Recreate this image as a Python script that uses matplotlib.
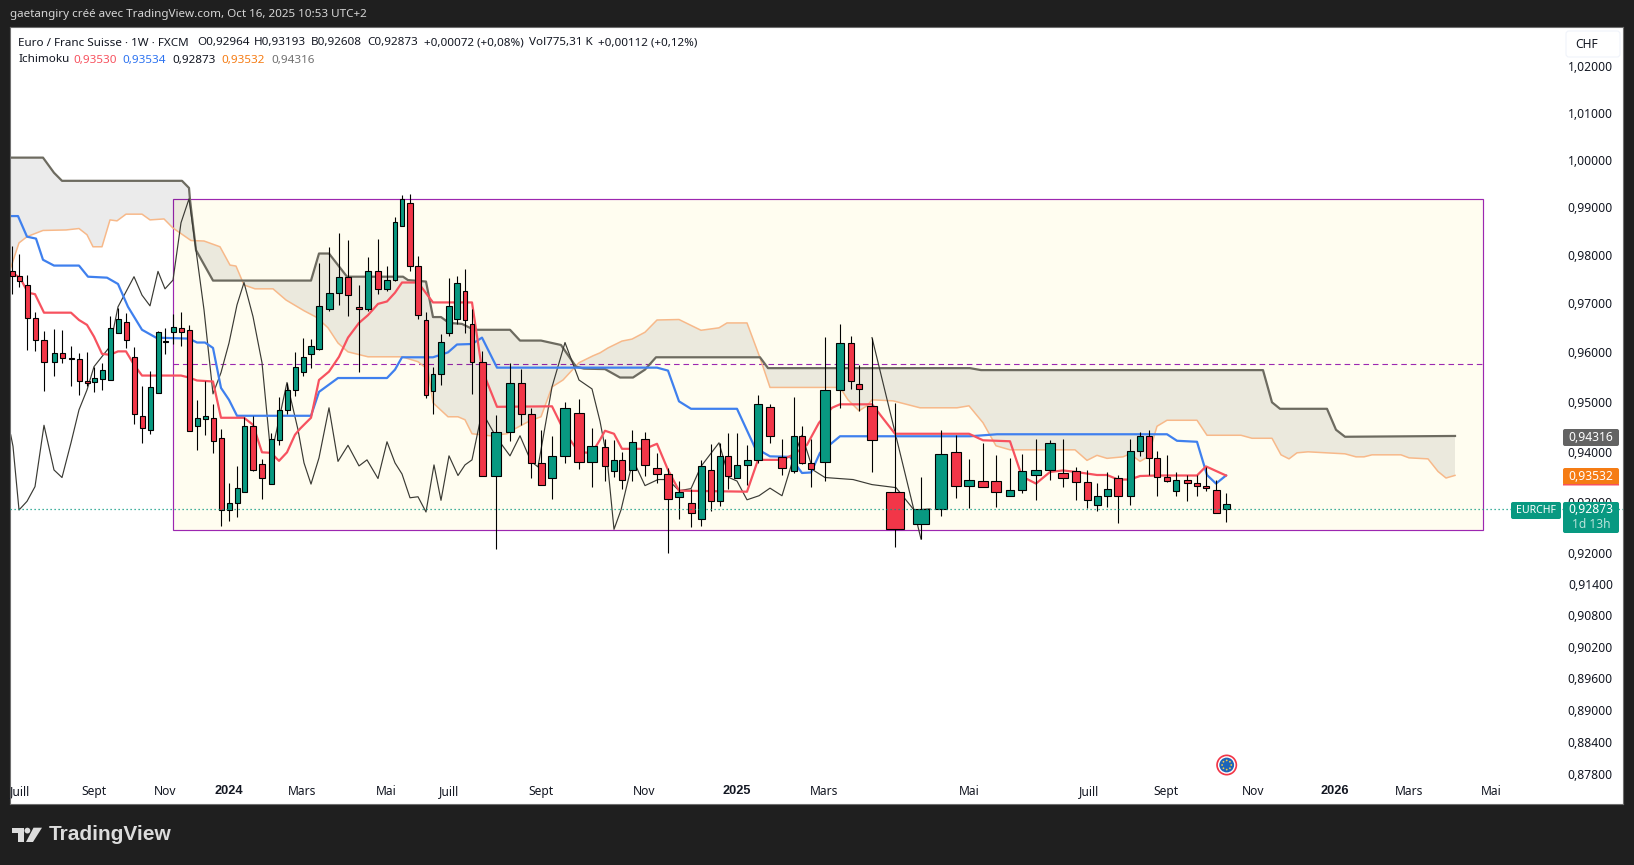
import numpy as np
import matplotlib
matplotlib.use('Agg')
import matplotlib.pyplot as plt
from matplotlib.patches import Rectangle, FancyBboxPatch, Circle, Polygon
from matplotlib.transforms import IdentityTransform

W, H = 1634, 865
FONT = 'Noto Sans'
BOLD_FONT = 'Liberation Sans'
plt.rcParams['font.family'] = [FONT, 'DejaVu Sans']

# %% data: time scale is irregular in the screenshot, so bars carry their own position
candle_pos = [12.3, 19.3, 27.3, 35.3, 44.3, 54.3, 62.3, 71.3, 79.3, 87.3, 94.3, 102.3, 110.3, 118.3, 126.3, 134.3, 142.3, 150.3, 158.3, 165.3, 173.3, 181.3, 189.3, 197.3, 205.3, 213.3, 221.3, 229.3, 237.3, 244.3, 253.3, 262.3, 271.3, 279.3, 287.3, 295.3, 303.3, 311, 319, 329, 339, 348, 359, 368, 378, 387, 395, 402, 410, 418, 426, 433, 441, 449, 457, 465, 472, 482, 496, 510, 521, 531, 541, 552, 565, 579, 592, 605, 614, 622, 632, 645, 657, 668, 679, 691, 701, 711, 720, 728, 737, 747, 758, 770, 782, 794, 802, 811, 825, 840, 851, 859, 872, 895, 920.6, 941, 956, 969, 983, 996, 1010, 1022, 1036, 1050, 1063, 1076, 1087, 1097, 1107, 1118, 1130, 1140, 1149, 1157, 1167, 1176, 1187, 1197, 1206, 1216, 1226]
opens = [.9766, .9756, .9737, .9670, .9625, .9580, .9598, .9588, .9586, .9542, .9540, .9546, .9544, .9639, .9662, .9590, .9471, .9443, .9518, .9623, .9641, .9649, .9645, .9451, .9466, .9467, .9427, .9285, .9298, .9320, .9451, .9376, .9336, .9423, .9483, .9524, .9560, .9597, .9607, .9689, .9722, .9755, .9693, .9689, .9767, .9730, .9748, .9860, .9908, .9777, .9666, .9522, .9557, .9640, .9668, .9726, .9658, .9581, .9352, .9440, .9538, .9476, .9378, .9349, .9392, .9478, .9380, .9410, .9362, .9384, .9364, .9426, .9368, .9356, .9311, .9299, .9268, .9364, .9303, .9392, .9349, .9374, .9384, .9490, .9390, .9362, .9432, .9378, .9380, .9524, .9619, .9536, .9492, .9321, .9258, .9287, .9400, .9333, .9343, .9343, .9313, .9325, .9354, .9364, .9358, .9362, .9341, .9295, .9313, .9349, .9313, .9402, .9432, .9388, .9350, .9323, .9345, .9339, .9333, .9325, .92873]
highs = [.9819, .9802, .9759, .9682, .9643, .9648, .9646, .9612, .9598, .9601, .9571, .9578, .9674, .9690, .9680, .9611, .9532, .9562, .9644, .9649, .9679, .9682, .9656, .9504, .9542, .9496, .9445, .9338, .9372, .9469, .9471, .9385, .9437, .9509, .9538, .9601, .9630, .9628, .9783, .9817, .9846, .9831, .9738, .9796, .9833, .9777, .9879, .9925, .9927, .9798, .9683, .9570, .9638, .9752, .9757, .9771, .9689, .9603, .9474, .9579, .9566, .9488, .9444, .9432, .9500, .9506, .9448, .9426, .9424, .9400, .9444, .9440, .9398, .9368, .9343, .9327, .9384, .9416, .9418, .9438, .9438, .9414, .9514, .9496, .9426, .9510, .9452, .9426, .9631, .9658, .9634, .9575, .9630, .9498, .9350, .9444, .9434, .9386, .9418, .9394, .9388, .9396, .9426, .9424, .9426, .9370, .9364, .9339, .9360, .9354, .9426, .9440, .9444, .9402, .9394, .9360, .9354, .9354, .9370, .9345, .93193]
lows = [.9720, .9734, .9605, .9602, .9521, .9553, .9579, .9531, .9513, .9531, .9519, .9524, .9544, .9639, .9608, .9455, .9417, .9435, .9518, .9596, .9617, .9612, .9441, .9403, .9433, .9397, .9253, .9264, .9272, .9320, .9362, .9306, .9336, .9413, .9476, .9511, .9553, .9569, .9605, .9685, .9697, .9674, .9561, .9685, .9720, .9726, .9746, .9860, .9767, .9668, .9508, .9476, .9534, .9634, .9658, .9640, .9516, .9352, .9209, .9422, .9454, .9349, .9335, .9307, .9378, .9366, .9331, .9343, .9350, .9327, .9343, .9352, .9338, .9201, .9268, .9252, .9254, .9283, .9293, .9327, .9349, .9335, .9378, .9418, .9354, .9358, .9376, .9331, .9343, .9488, .9526, .9482, .9360, .9213, .9228, .9273, .9309, .9289, .9331, .9291, .9313, .9319, .9305, .9345, .9331, .9305, .9289, .9283, .9291, .9260, .9295, .9392, .9354, .9313, .9341, .9313, .9303, .9313, .9323, .9279, .92608]
closes = [.9756, .9746, .9670, .9625, .9580, .9598, .9588, .9586, .9542, .9538, .9548, .9564, .9649, .9668, .9625, .9475, .9447, .9530, .9641, .9622, .9651, .9641, .9441, .9467, .9471, .9421, .9285, .9298, .9328, .9451, .9364, .9348, .9425, .9483, .9524, .9570, .9590, .9613, .9695, .9722, .9755, .9718, .9689, .9767, .9730, .9748, .9869, .9917, .9777, .9676, .9514, .9557, .9621, .9695, .9742, .9666, .9581, .9352, .9440, .9538, .9476, .9378, .9335, .9392, .9488, .9380, .9412, .9372, .9384, .9345, .9420, .9374, .9356, .9307, .9321, .9279, .9372, .9303, .9392, .9352, .9374, .9384, .9496, .9432, .9368, .9432, .9378, .9366, .9524, .9619, .9542, .9526, .9424, .9248, .9287, .9396, .9333, .9345, .9331, .9321, .9325, .9362, .9364, .9418, .9349, .9341, .9305, .9313, .9327, .9313, .9402, .9432, .9388, .9350, .9343, .9345, .9339, .9333, .9329, .9279, .92964]

tenkan_pos = [12, 20, 28, 35, 44, 71, 79, 87, 94, 102, 110, 118, 126, 134, 142, 181, 189, 197, 213, 221, 244, 253, 262, 271, 279, 287, 295, 300, 311, 319, 329, 339, 348, 359, 368, 378, 387, 395, 402, 418, 433, 472, 482, 497, 552, 565, 579, 592, 600, 605, 614, 622, 645, 657, 668, 679, 747, 758, 782, 793, 807, 819, 832, 840, 872, 895, 969, 983, 1010, 1022, 1036, 1050, 1063, 1076, 1097, 1107, 1118, 1130, 1140, 1157, 1197, 1206, 1226]
tenkan = [.9763, .9753, .9722, .9719, .9681, .9681, .9666, .9656, .9632, .9597, .9595, .9602, .9602, .9575, .9553, .9553, .9549, .9543, .9541, .9468, .9468, .9454, .9399, .9398, .9382, .9399, .9434, .9446, .9468, .9544, .9561, .9591, .9630, .9660, .9676, .9699, .9704, .9722, .9743, .9743, .9702, .9702, .9565, .9490, .9491, .9438, .9399, .9398, .9424, .9442, .9436, .9406, .9406, .9416, .9364, .9323, .9321, .9384, .9384, .9394, .9414, .9458, .9488, .9495, .9495, .9436, .9436, .9423, .9421, .9351, .9337, .9360, .9363, .9360, .9354, .9354, .9345, .9345, .9352, .9353, .9353, .9371, .9353]

kijun_pos = [10, 18, 27, 36, 43, 54, 79, 88, 107, 118, 128, 142, 156, 189, 197, 205, 213, 221, 229, 237, 311, 319, 338, 387, 395, 402, 433, 448, 457, 472, 482, 497, 657, 668, 679, 691, 737, 755, 770, 790, 802, 811, 820, 840, 970, 997, 1167, 1177, 1197, 1207, 1216, 1226]
kijun = [.9881, .9881, .9838, .9834, .9790, .9778, .9778, .9755, .9753, .9740, .9693, .9646, .9630, .9628, .9620, .9620, .9609, .9528, .9504, .9472, .9472, .9520, .9548, .9548, .9565, .9590, .9590, .9600, .9616, .9617, .9630, .9569, .9569, .9563, .9501, .9486, .9486, .9408, .9391, .9390, .9358, .9359, .9398, .9431, .9431, .9435, .9435, .9422, .9420, .9354, .9337, .9353]

lag_pos = [10.7, 13, 19, 27, 35, 44, 54, 62, 71, 79, 87, 94, 110, 118, 134, 142, 150, 158, 165, 173, 181, 189, 196, 204, 213, 221, 229, 237, 244, 253, 262, 271, 287, 298, 304, 311, 319, 329, 338, 348, 359, 367, 378, 387, 395, 402, 410, 418, 426, 434, 441, 449, 458, 465, 472, 482, 496, 510, 520, 531, 538, 552, 565, 579, 592, 600, 607, 614, 621, 633, 645, 658, 668, 679, 691, 701, 719, 729, 737, 747, 759, 770, 782, 794, 802, 813, 825, 853, 872, 896, 914, 930]
lag = [.9434, .9411, .9285, .9302, .9331, .9453, .9364, .9349, .9418, .9484, .9524, .9571, .9612, .9693, .9755, .9717, .9695, .9766, .9730, .9748, .9867, .9917, .9810, .9687, .9516, .9559, .9619, .9697, .9743, .9673, .9579, .9391, .9539, .9444, .9378, .9336, .9388, .9488, .9381, .9413, .9372, .9384, .9347, .9420, .9378, .9356, .9309, .9311, .9281, .9374, .9304, .9392, .9353, .9374, .9384, .9480, .9430, .9392, .9432, .9381, .9370, .9530, .9620, .9544, .9526, .9461, .9388, .9247, .9285, .9384, .9333, .9345, .9345, .9323, .9327, .9371, .9418, .9349, .9342, .9305, .9313, .9328, .9313, .9391, .9433, .9364, .9349, .9345, .9335, .9329, .9285, .9287]
spike_pos = [872, 921]
spike = [.9630, .9228]

span_a_pos = [10, 19, 27, 43, 66, 79, 87, 93, 102, 110, 117, 126, 142, 150, 164, 173, 191, 204, 220, 230, 236, 244, 255, 273, 286, 304, 317, 328, 338, 348, 368, 402, 418, 428, 433, 448, 458, 465, 472, 490, 507, 513, 530, 541, 552, 563, 579, 593, 600, 608, 622, 632, 645, 657, 679, 701, 719, 727, 747, 760, 770, 840, 848, 859, 867, 872, 893, 920, 957, 969, 983, 996, 1010, 1075, 1087, 1097, 1107, 1123, 1130, 1140, 1148, 1157, 1167, 1197, 1207, 1241, 1252, 1272, 1281, 1289, 1297, 1308, 1345, 1356, 1364, 1372, 1401, 1409, 1428, 1438, 1446, 1455]
span_a = [.9769, .9825, .9838, .9851, .9852, .9855, .9842, .9817, .9817, .9873, .9871, .9885, .9885, .9873, .9875, .9856, .9830, .9829, .9817, .9779, .9777, .9738, .9730, .9730, .9707, .9685, .9671, .9650, .9619, .9601, .9591, .9591, .9581, .9565, .9498, .9470, .9470, .9464, .9436, .9432, .9436, .9444, .9462, .9470, .9530, .9544, .9579, .9593, .9599, .9609, .9623, .9627, .9641, .9666, .9667, .9645, .9650, .9660, .9660, .9589, .9529, .9529, .9504, .9482, .9492, .9504, .9502, .9488, .9488, .9492, .9458, .9412, .9404, .9404, .9383, .9393, .9387, .9390, .9396, .9381, .9390, .9451, .9463, .9463, .9433, .9433, .9427, .9427, .9394, .9386, .9398, .9400, .9396, .9390, .9390, .9394, .9394, .9388, .9386, .9361, .9348, .93532]

span_b_pos = [10, 43, 54, 62, 153, 182, 189, 190, 196, 213, 311, 319, 329, 347, 403, 408, 426, 433, 441, 449, 462, 474, 510, 520, 541, 561, 576, 584, 605, 620, 633, 645, 656, 760, 768, 970, 981, 1263, 1272, 1280, 1327, 1336, 1345, 1455]
span_b = [1.0004, 1.0004, .9972, .9955, .9955, .9955, .9940, .9915, .9810, .9747, .9747, .9803, .9803, .9755, .9755, .9748, .9745, .9672, .9672, .9660, .9658, .9646, .9646, .9624, .9624, .9615, .9571, .9567, .9566, .9549, .9549, .9565, .9590, .9590, .9568, .9568, .9564, .9564, .9499, .9486, .9486, .9444, .9430, .94316]

range_pos = [173.3, 1483.3]
range_high, range_mid, range_low = .9917, .9577, .9245
last_price = .92873

price_ticks = [1.02, 1.01, 1.00, .99, .98, .97, .96, .95, .94, .93, .92, .914, .908, .902, .896, .89, .884, .878]
time_ticks = [20, 94, 165, 228.6, 302.5, 386, 449, 541, 644, 737, 824, 969, 1089, 1166, 1253.5, 1335, 1409, 1491]
time_labels = ['Juill', 'Sept', 'Nov', '2024', 'Mars', 'Mai', 'Juill', 'Sept', 'Nov', '2025', 'Mars', 'Mai', 'Juill', 'Sept', 'Nov', '2026', 'Mars', 'Mai']
year_labels = ['2024', '2025', '2026']

# colours
BG = '#1f1f1f'
UP, DOWN = '#089981', '#f23648'
RED, BLUE, ORANGE, GREY = '#f7525f', '#3f80ee', '#f7b98a', '#6d6b60'
PURPLE = '#9c27b0'
TEXT = '#131722'

# %%
fig = plt.figure(figsize=(W / 100, H / 100), dpi=100, facecolor=BG)
ax = fig.add_axes([10 / W, 1 - 804 / H, (1623 - 10) / W, (804 - 27) / H], facecolor='white')
ax.set_yscale('log')
ax.set_xlim(10, 1623)
ax.set_ylim(.87247, 1.02845)

ax.set_yticks(price_ticks, [f'{v:.5f}'.replace('.', ',') for v in price_ticks], fontsize=8.7, color=TEXT, ha='right')
ax.set_yticks([], minor=True)
ax.tick_params(axis='y', which='both', length=0, left=False, labelleft=False, right=False, labelright=True, pad=-7.2)
ax.set_xticks(time_ticks, time_labels, fontsize=8.7, color=TEXT)
ax.tick_params(axis='x', length=0, pad=-13.5)
for lab in ax.get_xticklabels():
	if lab.get_text() in year_labels:
		lab.set_family(BOLD_FONT)
		lab.set_fontweight('bold')
		lab.set_fontsize(9.2)
for s in ax.spines.values():
	s.set_color('#6e6e6e')
	s.set_linewidth(0.8)

# range box behind everything
ax.add_patch(Rectangle((range_pos[0], range_low), range_pos[1] - range_pos[0], range_high - range_low,
	facecolor='#fffdf0', edgecolor=PURPLE, linewidth=0.85, zorder=1))
ax.hlines(range_mid, range_pos[0], range_pos[1], color=PURPLE, linewidth=0.8, linestyle=(0, (5, 3.5)), zorder=1.2)

# cloud
ax.fill(span_a_pos + span_b_pos[::-1], span_a + span_b[::-1], color='black', alpha=0.08, linewidth=0, zorder=1.5)
ax.plot(span_a_pos, span_a, color=ORANGE, linewidth=1.1, zorder=2)
ax.plot(span_b_pos, span_b, color=GREY, linewidth=1.6, zorder=2.1)

# ichimoku lines
ax.plot(lag_pos, lag, color='#3a3a34', linewidth=0.85, zorder=2.2)
ax.plot(spike_pos, spike, color='#3a3a34', linewidth=0.85, zorder=2.2)
ax.plot(kijun_pos, kijun, color=BLUE, linewidth=1.6, zorder=2.3)
ax.plot(tenkan_pos, tenkan, color=RED, linewidth=1.6, zorder=2.4)

# candles, width follows the local spacing of the stretched time scale
pos = np.array(candle_pos)
o, h, l, c = map(np.array, (opens, highs, lows, closes))
gaps = np.diff(pos)
widths = 0.85 * np.minimum(np.r_[gaps[0], gaps], np.r_[gaps, gaps[-1]]) - 1.5
ax.vlines(pos, l, h, color='black', linewidth=0.8, zorder=3)
ax.bar(pos, np.abs(c - o), bottom=np.minimum(o, c), width=widths, color=np.where(c >= o, UP, DOWN),
	edgecolor='black', linewidth=0.8, zorder=3.1)

ax.axhline(last_price, color=UP, linewidth=0.9, linestyle=(0, (1, 2.2)), zorder=3.2)


# %% screenshot furniture, placed in pixels from the top-left corner
ID = IdentityTransform()

def put_text(x, y, s, color=TEXT, size=8.7, **kw):
	kw.setdefault('va', 'center')
	fig.text(x, H - y, s, color=color, fontsize=size, transform=ID, zorder=8, **kw)

def put_box(x0, y0, x1, y1, face, edge='none', rounding=2):
	fig.add_artist(FancyBboxPatch((x0, H - y1), x1 - x0, y1 - y0, boxstyle=f'round,pad=0,rounding_size={rounding}',
		facecolor=face, edgecolor=edge, linewidth=0.8, transform=ID, zorder=6))

put_text(10, 15, 'gaetangiry créé avec TradingView.com, Oct 16, 2025 10:53 UTC+2', color='#d6d6d6', size=8.4)

for x, s in [(18, 'Euro / Franc Suisse · 1W · FXCM'), (197, 'O0,92964'), (254, 'H0,93193'), (311, 'B0,92608'), (367, 'C0,92873'),
		(424.5, '+0,00072 (+0,08%)'), (529, 'Vol775,31 K'), (598, '+0,00112 (+0,12%)')]:
	put_text(x, 43, s, size=8.4)
for x, s, col in [(18, 'Ichimoku', TEXT), (73.5, '0,93530', RED), (122.5, '0,93534', '#2d73f0'), (172.4, '0,92873', TEXT),
		(221.4, '0,93532', '#f57c14'), (271, '0,94316', '#707070')]:
	put_text(x, 60, s, color=col, size=8.4)

put_box(1566, 31, 1620, 57, 'white', edge='#f0f3fa', rounding=3)
put_text(1575, 44, 'CHF', size=8.7)

# price tags on the right scale
put_box(1563, 429, 1619, 446, '#636363')
put_text(1613, 437.5, '0,94316', color='white', ha='right')
put_box(1563, 468, 1619, 485, '#f57c14')
put_box(1563, 484, 1619, 485.5, RED, rounding=0)
put_text(1613, 476, '0,93532', color='white', ha='right')
put_box(1511, 502, 1561, 519, UP)
put_text(1516, 510.5, 'EURCHF', color='white', size=7.6)
put_box(1563, 502, 1619, 533, UP)
put_text(1613, 509.5, '0,92873', color='white', ha='right')
put_text(1572, 524, '1d 13h', color='#b9e3da')

# event marker under the bars
fig.add_artist(Circle((1226.7, H - 765), 10.5, facecolor='#f23648', edgecolor='none', transform=ID, zorder=6))
fig.add_artist(Circle((1226.7, H - 765), 8.8, facecolor='white', edgecolor='none', transform=ID, zorder=6))
fig.add_artist(Circle((1226.7, H - 765), 7.4, facecolor='#1d65b8', edgecolor='none', transform=ID, zorder=6))
for a in np.arange(0, 2 * np.pi, np.pi / 4):
	fig.add_artist(Circle((1226.7 + 4.6 * np.cos(a), H - 765 + 4.6 * np.sin(a)), 0.9, facecolor='#f2c94c', edgecolor='none', transform=ID, zorder=7))

# footer logo
LOGO = '#dcdcdc'
fig.add_artist(Polygon([(12, H - 827.7), (24, H - 827.7), (24, H - 842), (18, H - 842), (18, H - 833), (12, H - 833)], facecolor=LOGO, transform=ID, zorder=6))
fig.add_artist(Circle((27.4, H - 830.6), 2.9, facecolor=LOGO, edgecolor='none', transform=ID, zorder=6))
fig.add_artist(Polygon([(33.5, H - 827.7), (42, H - 827.7), (33, H - 842), (26, H - 842)], facecolor=LOGO, transform=ID, zorder=6))
put_text(49, 834.5, 'TradingView', color=LOGO, size=15, family=BOLD_FONT, fontweight='bold')

fig.savefig('out.png', dpi=100, facecolor=BG)
